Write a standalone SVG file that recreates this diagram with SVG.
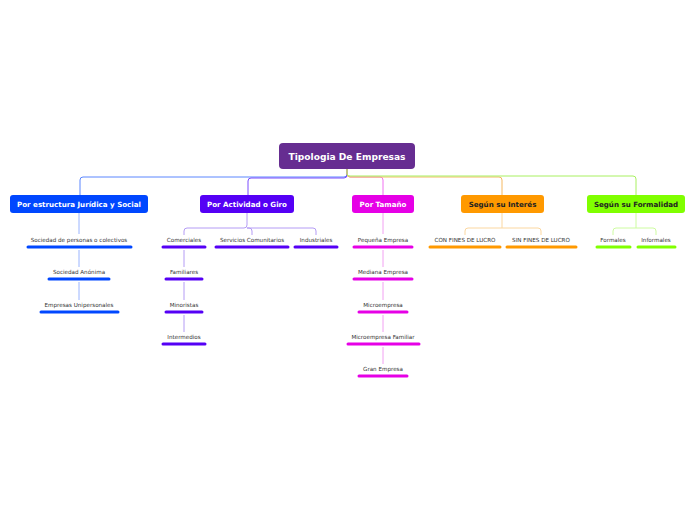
<svg xmlns="http://www.w3.org/2000/svg" width="696" height="520" viewBox="0 0 696 520">
<style>
.t{font-family:Verdana,"DejaVu Sans",sans-serif;font-size:5.6px;fill:#333;text-anchor:middle}
.n{font-family:Verdana,"DejaVu Sans",sans-serif;font-size:7.1px;font-weight:bold;text-anchor:middle}
.bar{stroke-width:3;stroke-linecap:round;fill:none}
.c{fill:none;stroke-width:1}
</style>
<rect width="696" height="520" fill="#fff"/>
<g id="connectors">
<path class="c" stroke="#5a86ff" d="M347,169 V174 Q347,177 344,177 H83 Q80,177 80,180 V195"/>
<path class="c" stroke="#7a4cff" d="M347,169 V175 Q347,178 344,178 H251 Q248,178 248,181 V195"/>
<path class="c" stroke="#f070f0" d="M347,169 V174 Q347,177 350,177 H380 Q383,177 383,180 V195"/>
<path class="c" stroke="#f5b860" d="M347,169 V174 Q347,177 350,177 H499 Q502,177 502,180 V195"/>
<path class="c" stroke="#a8f060" d="M347,169 V174 Q347,176 350,176 H633 Q636,176 636,179 V195"/>
<path class="c" stroke="#9ab4ff" d="M79,213 V234 M79,250 V267 M79,282 V300"/>
<path class="c" stroke="#b49cf5" d="M247,213 V225 Q247,228 244,228 H187 Q184,228 184,231 V235 M247,228 H249 Q252,228 252,231 V235 M247,228 H313 Q316,228 316,231 V235"/>
<path class="c" stroke="#b49cf5" d="M184,250 V267 M184,282 V300 M184,315 V332"/>
<path class="c" stroke="#f2a0f2" d="M383,213 V234 M383,250 V267 M383,282 V300 M383,315 V332 M383,347 V364"/>
<path class="c" stroke="#fbd7a0" d="M502,213 V228 H468 Q465,228 465,231 V235 M502,228 H538 Q541,228 541,231 V235"/>
<path class="c" stroke="#cdfca0" d="M636,213 V228 H616 Q613,228 613,231 V235 M636,228 H653 Q656,228 656,231 V235"/>
</g>
<g id="root">
<rect x="279" y="143" width="136" height="26" rx="4" fill="#662d91"/>
<text x="347" y="160" class="n" style="font-size:9.1px" fill="#fff">Tipologia De Empresas</text>
</g>
<g id="n1">
<rect x="10" y="195" width="138" height="18" rx="3" fill="#0047ff"/>
<text x="79" y="206.5" class="n" fill="#fff">Por estructura Jurídica y Social</text>
</g>
<g id="n2">
<rect x="200" y="195" width="94" height="18" rx="3" fill="#5500f5"/>
<text x="247" y="206.5" class="n" fill="#fff">Por Actividad o Giro</text>
</g>
<g id="n3">
<rect x="352" y="195" width="62" height="18" rx="3" fill="#e600e6"/>
<text x="383" y="206.5" class="n" fill="#fff">Por Tamaño</text>
</g>
<g id="n4">
<rect x="461" y="195" width="83" height="18" rx="3" fill="#ff9900"/>
<text x="502.5" y="206.5" class="n" fill="#222">Según su Interés</text>
</g>
<g id="n5">
<rect x="587" y="195" width="98" height="18" rx="3" fill="#80ff00"/>
<text x="636" y="206.5" class="n" fill="#222">Según su Formalidad</text>
</g>
<g id="c1a"><text x="79" y="242" class="t">Sociedad de personas o colectivos</text><line class="bar" stroke="#0047ff" x1="28" y1="247" x2="131" y2="247"/></g>
<g id="c1b"><text x="79" y="274" class="t">Sociedad Anónima</text><line class="bar" stroke="#0047ff" x1="49" y1="279" x2="109" y2="279"/></g>
<g id="c1c"><text x="79" y="307" class="t">Empresas Unipersonales</text><line class="bar" stroke="#0047ff" x1="41" y1="312" x2="118" y2="312"/></g>
<g id="c2a"><text x="184" y="242" class="t">Comerciales</text><line class="bar" stroke="#5500f5" x1="163" y1="247" x2="205" y2="247"/></g>
<g id="c2b"><text x="252" y="242" class="t">Servicios Comunitarios</text><line class="bar" stroke="#5500f5" x1="216" y1="247" x2="288" y2="247"/></g>
<g id="c2c"><text x="316" y="242" class="t">Industriales</text><line class="bar" stroke="#5500f5" x1="295" y1="247" x2="337" y2="247"/></g>
<g id="c2d"><text x="184" y="274" class="t">Familiares</text><line class="bar" stroke="#5500f5" x1="166" y1="279" x2="202" y2="279"/></g>
<g id="c2e"><text x="184" y="307" class="t">Minoristas</text><line class="bar" stroke="#5500f5" x1="166" y1="312" x2="202" y2="312"/></g>
<g id="c2f"><text x="184" y="339" class="t">Intermedios</text><line class="bar" stroke="#5500f5" x1="163" y1="344" x2="205" y2="344"/></g>
<g id="c3a"><text x="383" y="242" class="t">Pequeña Empresa</text><line class="bar" stroke="#e600e6" x1="354" y1="247" x2="412" y2="247"/></g>
<g id="c3b"><text x="383" y="274" class="t">Mediana Empresa</text><line class="bar" stroke="#e600e6" x1="354" y1="279" x2="412" y2="279"/></g>
<g id="c3c"><text x="383" y="307" class="t">Microempresa</text><line class="bar" stroke="#e600e6" x1="359" y1="312" x2="407" y2="312"/></g>
<g id="c3d"><text x="383" y="339" class="t">Microempresa Familiar</text><line class="bar" stroke="#e600e6" x1="348" y1="344" x2="419" y2="344"/></g>
<g id="c3e"><text x="383" y="371" class="t">Gran Empresa</text><line class="bar" stroke="#e600e6" x1="359" y1="376" x2="407" y2="376"/></g>
<g id="c4a"><text x="465" y="242" class="t">CON FINES DE LUCRO</text><line class="bar" stroke="#ff9900" x1="430" y1="247" x2="500" y2="247"/></g>
<g id="c4b"><text x="541" y="242" class="t">SIN FINES DE LUCRO</text><line class="bar" stroke="#ff9900" x1="507" y1="247" x2="576" y2="247"/></g>
<g id="c5a"><text x="613" y="242" class="t">Formales</text><line class="bar" stroke="#80ff00" x1="597" y1="247" x2="630" y2="247"/></g>
<g id="c5b"><text x="656" y="242" class="t">Informales</text><line class="bar" stroke="#80ff00" x1="638" y1="247" x2="675" y2="247"/></g>
</svg>
